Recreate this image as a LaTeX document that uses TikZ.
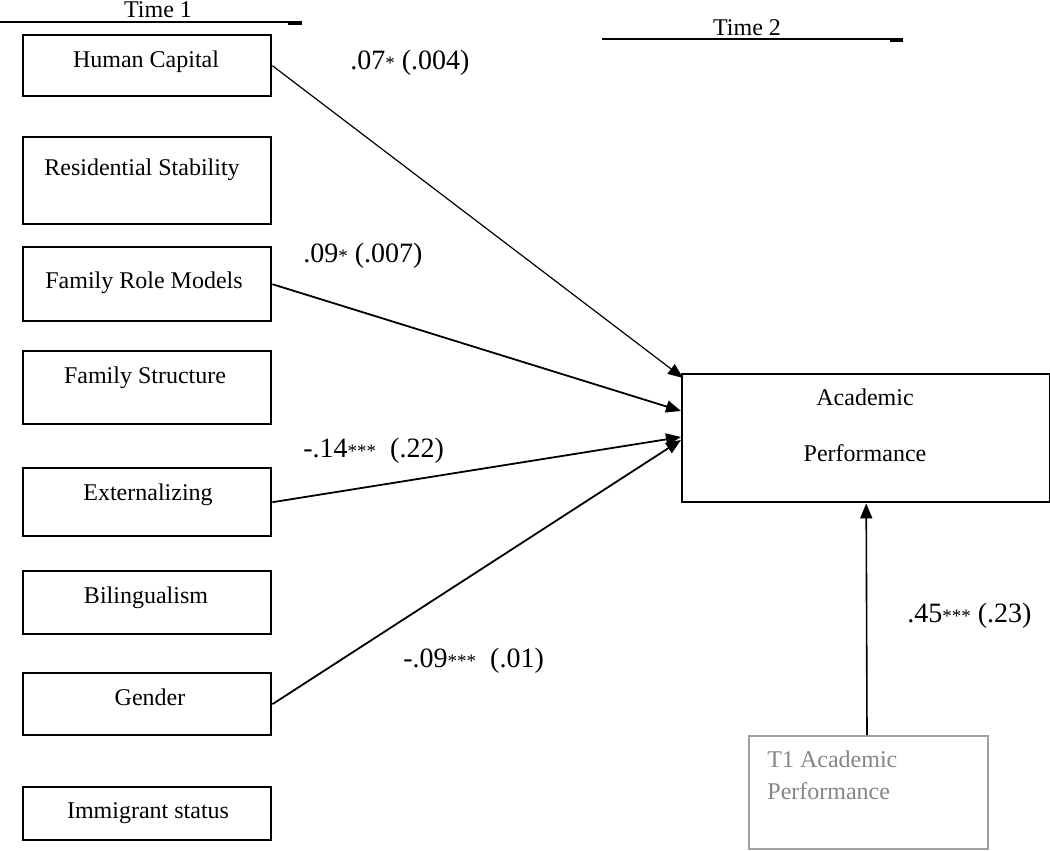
\documentclass[tikz,border=0pt]{standalone}
\usepackage{fontspec}
\setmainfont{Liberation Serif}
\usetikzlibrary{arrows.meta}
\newcommand\sigst[1]{{\fontsize{9.5}{9.5}\selectfont #1}}
\definecolor{greybox}{HTML}{A0A0A0}
\definecolor{greytext}{HTML}{858585}
\begin{document}
\begin{tikzpicture}[x=0.5pt,y=-0.5pt,
  box/.style={draw,line width=1.2pt,inner sep=0pt,anchor=north west,minimum width=124pt},
  boxtext/.style={font=\fontsize{12}{14}\selectfont,anchor=base,inner sep=0pt},
  coef/.style={font=\fontsize{14}{16}\selectfont,anchor=base west,inner sep=0pt},
  arr/.style={-{Triangle[length=7.5pt,width=6pt]},line width=0.9pt},
  rule/.style={line width=1pt}]
\useasboundingbox (0,0) rectangle (1050,851);

% time headers
\coordinate (t1a) at (0,22); \coordinate (t1b) at (302,22);
\coordinate (t1c) at (288,23); 
\draw[rule] (t1a) -- (t1b);
\draw[line width=1.7pt] (t1c) -- (t1b|-t1c);
\node[boxtext] (time1) at (158,18) {Time 1};
\coordinate (t2a) at (602,39); \coordinate (t2b) at (903,39);
\coordinate (t2c) at (890,40);
\draw[rule] (t2a) -- (t2b);
\draw[line width=1.7pt] (t2c) -- (t2b|-t2c);
\node[boxtext] (time2) at (747,35) {Time 2};

% left boxes
\node[box,minimum height=30.5pt] (hc) at (22,34) {};
\node[boxtext] (hct) at (146,67) {Human Capital};
\node[box,minimum height=43.5pt] (rs) at (22,136) {};
\node[boxtext] (rst) at (142,175) {Residential Stability};
\node[box,minimum height=37pt] (frm) at (22,246) {};
\node[boxtext] (frmt) at (144,288) {Family Role Models};
\node[box,minimum height=36.5pt] (fs) at (22,350) {};
\node[boxtext] (fst) at (145,383) {Family Structure};
\node[box,minimum height=34pt] (ext) at (22,467) {};
\node[boxtext] (extt) at (148,500) {Externalizing};
\node[box,minimum height=31.5pt] (bil) at (22,570) {};
\node[boxtext] (bilt) at (146,603) {Bilingualism};
\node[box,minimum height=31pt] (gen) at (22,672) {};
\node[boxtext] (gent) at (150,705) {Gender};
\node[box,minimum height=26.5pt] (imm) at (22,786) {};
\node[boxtext] (immt) at (148,818) {Immigrant status};

% outcome
\node[box,minimum width=184pt,minimum height=64pt] (ap) at (681,373) {};
\node[boxtext] (apt1) at (865,405) {Academic};
\node[boxtext] (apt2) at (865,461) {Performance};

% T1 academic performance
\node[box,draw=greybox,minimum width=119.5pt,minimum height=56.5pt] (t1ap) at (748,735) {};
\node[boxtext,anchor=base west,text=greytext] (t1apt1) at (767,767) {T1 Academic};
\node[boxtext,anchor=base west,text=greytext] (t1apt2) at (767,799) {Performance};

% arrow end points
\coordinate (eHC) at (683,378);
\coordinate (eFRM) at (681,411);
\coordinate (eEXT) at (681,437);
\coordinate (eGEN) at (681,440);
\coordinate (sT1) at (867,735);

\draw[arr,line width=0.6pt] (hc.east) -- (eHC);
\draw[arr] (frm.east) -- (eFRM);
\draw[arr] (ext.east) -- (eEXT);
\draw[arr] (gen.east) -- (eGEN);
\draw[arr,line width=0.8pt] (sT1) -- (ap.south);

% coefficients
\node[coef] (c1) at (350,69) {.07\sigst{*} (.004)};
\node[coef] (c2) at (303,262) {.09\sigst{*} (.007)};
\node[coef] (c3) at (303,457) {-.14\sigst{***}\ \ (.22)};
\node[coef] (c4) at (403,667) {-.09\sigst{***}\ \ (.01)};
\node[coef] (c5) at (907,622) {.45\sigst{***} (.23)};
\end{tikzpicture}
\end{document}
